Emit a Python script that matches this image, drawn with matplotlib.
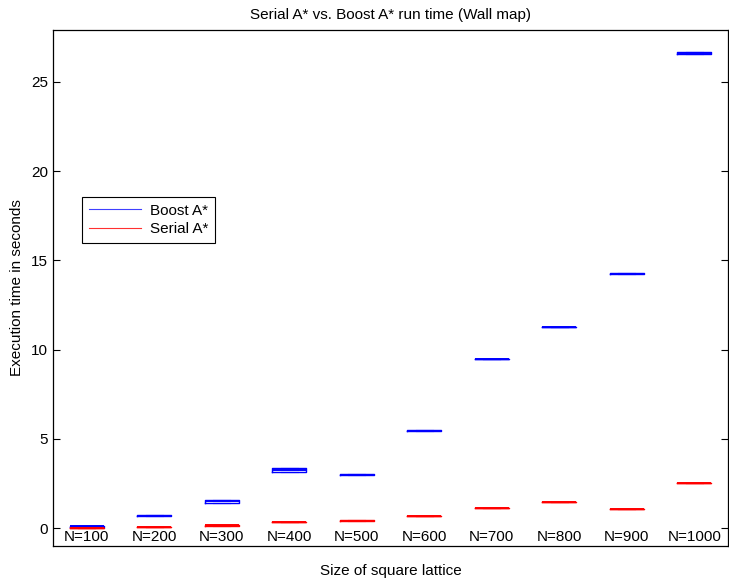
import matplotlib.pyplot as plt

plt.rcParams['font.family'] = ['Liberation Sans', 'DejaVu Sans']
plt.rcParams['font.size'] = 11

sizes = ['N=100', 'N=200', 'N=300', 'N=400', 'N=500',
         'N=600', 'N=700', 'N=800', 'N=900', 'N=1000']

# run time quartiles (seconds) per lattice size
boost_q1 = [0.08, 0.68, 1.40, 3.14, 2.98, 5.44, 9.45, 11.25, 14.24, 26.55]
boost_med = [0.10, 0.70, 1.50, 3.25, 3.00, 5.46, 9.47, 11.27, 14.26, 26.60]
boost_q3 = [0.12, 0.72, 1.58, 3.36, 3.02, 5.48, 9.49, 11.29, 14.28, 26.66]

serial_q1 = [0.01, 0.07, 0.14, 0.32, 0.41, 0.66, 1.13, 1.46, 1.06, 2.53]
serial_med = [0.02, 0.08, 0.15, 0.33, 0.42, 0.67, 1.14, 1.47, 1.07, 2.54]
serial_q3 = [0.03, 0.09, 0.16, 0.34, 0.43, 0.68, 1.15, 1.48, 1.08, 2.55]


def make_stats(q1, med, q3):
    return [dict(q1=a, med=b, q3=c, whislo=a, whishi=c, fliers=[])
            for a, b, c in zip(q1, med, q3)]


fig = plt.figure(figsize=(7.29, 5.81), dpi=100)
ax = fig.add_axes([53 / 729, 35 / 581, 675 / 729, 516 / 581])

pos = list(range(1, len(sizes) + 1))
for stats, col in [(make_stats(boost_q1, boost_med, boost_q3), 'blue'),
                   (make_stats(serial_q1, serial_med, serial_q3), 'red')]:
    ax.bxp(stats, positions=pos, widths=0.5, showfliers=False,
           boxprops=dict(color=col, linewidth=1.0),
           medianprops=dict(color=col, linewidth=1.4),
           whiskerprops=dict(color=col, linewidth=0.8, linestyle='--'),
           capprops=dict(color=col, linewidth=0.8))

ax.set_xlim(0.5, 10.5)
ax.set_ylim(-1.0, 27.9)
ax.set_yticks([0, 5, 10, 15, 20, 25])
ax.set_xticks([])
ax.tick_params(axis='y', direction='in', right=True, length=5, width=0.8)
for s in ax.spines.values():
    s.set_linewidth(0.9)

for p, lab in zip(pos, sizes):
    ax.text(p, 0.004, lab, transform=ax.get_xaxis_transform(),
            ha='center', va='bottom')

ax.set_title('Serial A* vs. Boost A* run time (Wall map)', fontsize=11, pad=8)
ax.set_xlabel('Size of square lattice', labelpad=13)
ax.set_ylabel('Execution time in seconds', labelpad=5)

h1, = ax.plot([], [], color='#4040ff', linewidth=0.8, label='Boost A*')
h2, = ax.plot([], [], color='#ff3030', linewidth=0.8, label='Serial A*')
leg = ax.legend(handles=[h1, h2], loc='upper left',
                bbox_to_anchor=(0.043, 0.677), fancybox=False,
                edgecolor='black', framealpha=1, handlelength=3.4,
                borderpad=0.45, labelspacing=0.3, handletextpad=0.6,
                borderaxespad=0)
leg.get_frame().set_linewidth(0.8)

fig.savefig('out.png', dpi=100)
